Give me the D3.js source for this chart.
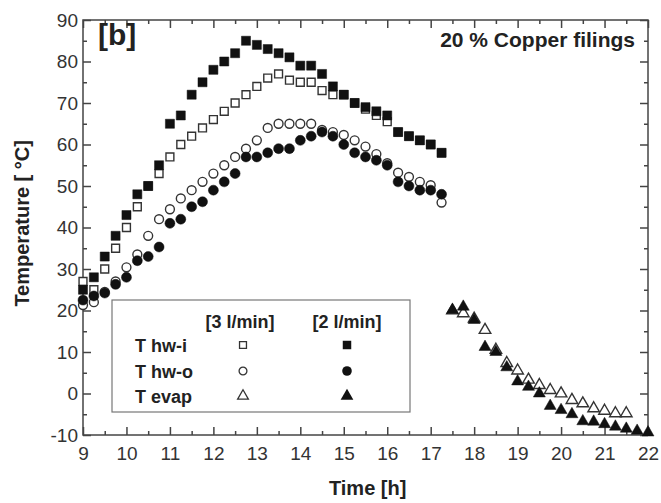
<!DOCTYPE html>
<meta charset="utf-8">
<head>
  <title>Temperature vs time - 20 % copper filings</title>
</head>
<script src="https://d3js.org/d3.v7.min.js"></script>
<style>
  body { margin: 0; background: #fff; }
  text { font-family: "Liberation Sans", Arial, sans-serif; }
</style>
<div id="chart"></div>
<script>

  // ---- data ----
  // hot water side, one reading every 15 min
  var tHot = [9, 9.25, 9.5, 9.75, 10, 10.25, 10.5, 10.75, 11, 11.25, 11.5, 11.75,
              12, 12.25, 12.5, 12.75, 13, 13.25, 13.5, 13.75, 14, 14.25, 14.5, 14.75,
              15, 15.25, 15.5, 15.75, 16, 16.25, 16.5, 16.75, 17, 17.25];
  // T hw-i, 3 l/min (open squares)
  var hwi3 = [27, 25, 30, 35, 40, 45, 50, 53, 57, 60, 62, 64, 66, 68, 70, 72, 74, 76,
              77, 75.5, 75, 75, 73, 72, 72, 70, 68.5, 67, 65.5, 63, 62, 61, 60, 58];
  // T hw-i, 2 l/min (filled squares)
  var hwi2 = [25, 28, 33, 38, 43, 48, 50, 55, 65, 67, 72, 75, 78, 80, 82, 85, 84, 83,
              82, 81, 79, 79, 77, 74, 72, 70, 69, 68, 67, 63, 62, 61, 60, 58];
  // T hw-o, 3 l/min (open circles)
  var hwo3 = [21.3, 22, 24.5, 27, 30.4, 33.5, 38, 42, 44.4, 47, 49, 51, 53, 55, 57, 59,
              61, 64, 65, 65, 65, 65, 63.5, 63, 62.3, 61, 59.5, 57.7, 55.5, 53.2, 52.2, 51, 50.2, 46];
  // T hw-o, 2 l/min (filled circles)
  var hwo2 = [22.5, 23.5, 24.2, 26.3, 28, 32, 33, 35.3, 41, 42, 45, 46.2, 49, 51, 53, 57,
              57, 58, 59, 59, 61, 62, 63, 62, 60, 58, 57, 56.2, 55, 51, 50, 49, 49, 48];

  // evaporator side
  var tEvap = [17.5, 17.75, 18, 18.25, 18.5, 18.75, 19, 19.25, 19.5, 19.75, 20,
               20.25, 20.5, 20.75, 21, 21.25, 21.5, 21.75, 22];
  // T evap, 3 l/min (open triangles) - stops at 21.5
  var evap3 = [20, 19.3, 18, 15.3, 10.5, 7.3, 5.5, 3.3, 2, 0.8, 0, -1.6, -2.4, -3.6,
               -4.2, -4.8, -4.8];
  // T evap, 2 l/min (filled triangles)
  var evap2 = [20.1, 20.9, 17.7, 11.2, 10, 6.3, 2.9, 1.6, 0, -3, -4, -5, -6.7, -6.8,
               -7.4, -8, -8.5, -9, -9.4];

  var xTicks = [9, 10, 11, 12, 13, 14, 15, 16, 17, 18, 19, 20, 21, 22];
  var yTicks = [-10, 0, 10, 20, 30, 40, 50, 60, 70, 80, 90];

  var legendRows = ["T hw-i", "T hw-o", "T evap"];
  var legendCols = ["[3 l/min]", "[2 l/min]"];

  // ---- layout ----
  var W = 661, H = 503;
  var margin = {top: 20, right: 13, bottom: 68, left: 83},
      width = W - margin.left - margin.right,
      height = H - margin.top - margin.bottom;

  var svg = d3.select("#chart")
    .append("svg")
      .attr("width", W)
      .attr("height", H)
    .append("g")
      .attr("transform", "translate(" + margin.left + "," + margin.top + ")");

  var x = d3.scaleLinear().domain([9, 22]).range([0, width]);
  var y = d3.scaleLinear().domain([-10, 90]).range([height, 0]);

  var axisColor = "#444";
  // plain hyphen for negatives, like the original
  var fmt = function(d) { return String(d); };

  // minor ticks (no labels)
  var xMinor = d3.range(9.5, 22, 1);
  var yMinor = d3.range(-5, 90, 10);

  function styleAxis(g) {
    g.select(".domain").remove();
    g.selectAll(".tick line").attr("stroke", axisColor).attr("stroke-width", 1.5);
    g.selectAll("text")
      .attr("fill", "#333")
      .style("font-size", "19px");
  }

  // bottom
  svg.append("g")
    .attr("transform", "translate(0," + height + ")")
    .call(d3.axisBottom(x).tickValues(xTicks).tickFormat(fmt)
      .tickSize(-8).tickPadding(12))
    .call(styleAxis);
  svg.append("g")
    .attr("transform", "translate(0," + height + ")")
    .call(d3.axisBottom(x).tickValues(xMinor).tickFormat("").tickSize(-4))
    .call(styleAxis);
  // top
  svg.append("g")
    .call(d3.axisTop(x).tickValues(xTicks).tickFormat("").tickSize(-8))
    .call(styleAxis);
  svg.append("g")
    .call(d3.axisTop(x).tickValues(xMinor).tickFormat("").tickSize(-4))
    .call(styleAxis);
  // left
  svg.append("g")
    .call(d3.axisLeft(y).tickValues(yTicks).tickFormat(fmt)
      .tickSize(-8).tickPadding(5))
    .call(styleAxis);
  svg.append("g")
    .call(d3.axisLeft(y).tickValues(yMinor).tickFormat("").tickSize(-4))
    .call(styleAxis);
  // right
  svg.append("g")
    .attr("transform", "translate(" + width + ",0)")
    .call(d3.axisRight(y).tickValues(yTicks).tickFormat("").tickSize(-8))
    .call(styleAxis);
  svg.append("g")
    .attr("transform", "translate(" + width + ",0)")
    .call(d3.axisRight(y).tickValues(yMinor).tickFormat("").tickSize(-4))
    .call(styleAxis);

  // frame
  svg.append("rect")
    .attr("width", width)
    .attr("height", height)
    .attr("fill", "none")
    .attr("stroke", axisColor)
    .attr("stroke-width", 1.5);

  // ---- markers ----
  var sq = d3.symbol().type(d3.symbolSquare),
      ci = d3.symbol().type(d3.symbolCircle),
      tri = d3.symbol().type(d3.symbolTriangle);

  function series(times, vals, gen, size, filled) {
    var pts = vals.map(function(v, i) { return {t: times[i], v: v}; });
    svg.append("g")
      .selectAll("path")
      .data(pts)
      .enter().append("path")
        .attr("d", gen.size(size)())
        .attr("transform", function(d) { return "translate(" + x(d.t) + "," + y(d.v) + ")"; })
        .attr("fill", filled ? "#111" : "#fff")
        .attr("stroke", filled ? "#111" : "#333")
        .attr("stroke-width", filled ? 0.5 : 1.4);
  }

  // open ones underneath, filled ones on top
  series(tHot, hwi3, sq, 62, false);
  series(tHot, hwo3, ci, 62, false);
  series(tEvap, evap3, tri, 58, false);
  series(tHot, hwi2, sq, 82, true);
  series(tHot, hwo2, ci, 78, true);
  series(tEvap, evap2, tri, 62, true);

  // ---- texts ----
  svg.append("text")
    .attr("x", 15)
    .attr("y", 25)
    .style("font-size", "30px")
    .style("font-weight", "bold")
    .attr("fill", "#222")
    .text("[b]");

  svg.append("text")
    .attr("x", width - 13)
    .attr("y", 27)
    .attr("text-anchor", "end")
    .style("font-size", "21px")
    .style("font-weight", "bold")
    .attr("fill", "#222")
    .text("20 % Copper filings");

  svg.append("text")
    .attr("x", x(15.55))
    .attr("y", H - margin.top - 8)
    .attr("text-anchor", "middle")
    .style("font-size", "20px")
    .style("font-weight", "bold")
    .attr("fill", "#222")
    .text("Time [h]");

  svg.append("text")
    .attr("transform", "translate(" + (29 - margin.left) + "," + y(41) + ") rotate(-90)")
    .attr("text-anchor", "middle")
    .style("font-size", "20px")
    .style("font-weight", "bold")
    .attr("fill", "#222")
    .text("Temperature [ °C]");

  // ---- legend ----
  var lg = svg.append("g").attr("transform", "translate(" + (112 - margin.left) + "," + (300 - margin.top) + ")");
  lg.append("rect")
    .attr("width", 298)
    .attr("height", 112)
    .attr("fill", "#fff")
    .attr("stroke", "#777")
    .attr("stroke-width", 1.2);

  var colX = [128, 235];
  legendCols.forEach(function(c, i) {
    lg.append("text")
      .attr("x", colX[i])
      .attr("y", 28)
      .attr("text-anchor", "middle")
      .style("font-size", "18px")
      .style("font-weight", "bold")
      .attr("fill", "#222")
      .text(c);
  });

  var rowY = [45, 71, 96];
  var legendGens = [sq, ci, tri];
  legendRows.forEach(function(r, i) {
    lg.append("text")
      .attr("x", 23)
      .attr("y", rowY[i] + 7)
      .style("font-size", "18px")
      .style("font-weight", "bold")
      .attr("fill", "#222")
      .text(r);
    lg.append("path")
      .attr("d", legendGens[i].size(i == 2 ? 50 : 48)())
      .attr("transform", "translate(" + (colX[0] + 3) + "," + rowY[i] + ")")
      .attr("fill", "#fff")
      .attr("stroke", "#333")
      .attr("stroke-width", 1.3);
    lg.append("path")
      .attr("d", legendGens[i].size(i == 2 ? 70 : 72)())
      .attr("transform", "translate(" + (colX[1]) + "," + rowY[i] + ")")
      .attr("fill", "#111");
  });

</script>
